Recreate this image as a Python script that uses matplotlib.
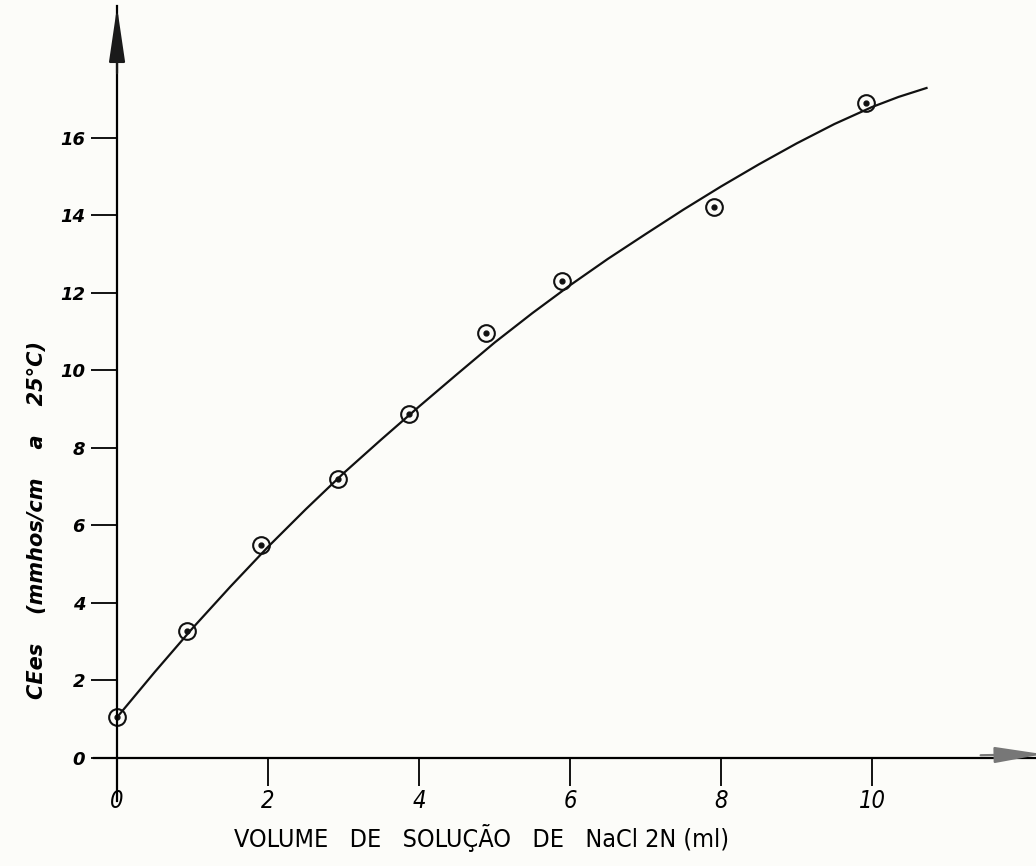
import matplotlib.pyplot as plt
import numpy as np

# measured points (volume of NaCl 2N in ml, CEes in mmhos/cm at 25 C)
vol = [0, 0.93, 1.9, 2.92, 3.87, 4.88, 5.89, 7.90, 9.92]
ce = [1.05, 3.27, 5.49, 7.19, 8.89, 10.96, 12.31, 14.21, 16.9]

# hand drawn fitted curve
curve_x = [0, 0.5, 1, 1.5, 2, 2.5, 3, 3.5, 4, 4.5, 5, 5.5, 6, 6.5, 7, 7.5, 8, 8.5, 9, 9.5, 10, 10.35, 10.72]
curve_y = [1.05, 2.22, 3.35, 4.42, 5.45, 6.42, 7.35, 8.22, 9.07, 9.9, 10.72, 11.48, 12.2, 12.88,
           13.52, 14.15, 14.75, 15.32, 15.86, 16.36, 16.8, 17.06, 17.29]

xticks = [0, 2, 4, 6, 8, 10]
yticks = [0, 2, 4, 6, 8, 10, 12, 14, 16]

bg = '#fcfcf9'
fig = plt.figure(figsize=(10.36, 8.66), dpi=100, facecolor=bg)
ax = fig.add_axes([0.0911, 0.0755, 0.9089, 0.9173])
ax.set_facecolor(bg)
ax.set_xlim(-0.3, 12.17)
ax.set_ylim(-1.1, 19.4)

# axes through the origin
for s in ['top', 'right']:
    ax.spines[s].set_visible(False)
ax.spines['left'].set_position(('data', 0))
ax.spines['bottom'].set_position(('data', 0))
ax.spines['left'].set_linewidth(1.6)
ax.spines['bottom'].set_linewidth(1.6)

# arrow heads
ax.annotate('', xy=(0, 19.45), xytext=(0, 17.6),
            arrowprops=dict(arrowstyle='-|>,head_length=3.4,head_width=0.5',
                            color='#1a1a1a', lw=1.6), annotation_clip=False)
ax.annotate('', xy=(12.3, 0.1), xytext=(11.4, 0.07),
            arrowprops=dict(arrowstyle='-|>,head_length=3.0,head_width=0.5',
                            color='#777777', lw=1.6), annotation_clip=False)

ax.set_xticks(xticks)
ax.set_yticks(yticks)
ax.set_xticklabels([str(v) for v in xticks], fontsize=17, fontstyle='italic',
                   fontstretch='condensed')
ax.set_yticklabels([str(v) for v in yticks], fontsize=13, fontstyle='italic',
                   fontweight='bold')
ax.tick_params(axis='x', direction='out', length=20, width=1.3, pad=2)
ax.tick_params(axis='y', direction='out', length=19, width=1.3, pad=4)

# curve and points
ax.plot(curve_x, curve_y, color='#111111', lw=1.6)
ax.plot(vol, ce, linestyle='none', marker='o', markersize=12, markerfacecolor='none',
        markeredgecolor='#111111', markeredgewidth=1.5)
ax.plot(vol, ce, linestyle='none', marker='o', markersize=3.5, color='#111111')

fig.text(0.465, 0.032, 'VOLUME   DE   SOLUÇÃO   DE   NaCl 2N (ml)', fontsize=18,
         fontstretch='condensed', ha='center', va='center')
fig.text(0.036, 0.40, 'CEes    (mmhos/cm    a    25°C)', fontsize=15, fontstyle='italic',
         fontweight='bold', rotation=90, ha='center', va='center')

fig.savefig('out.png', dpi=100, facecolor=bg)
